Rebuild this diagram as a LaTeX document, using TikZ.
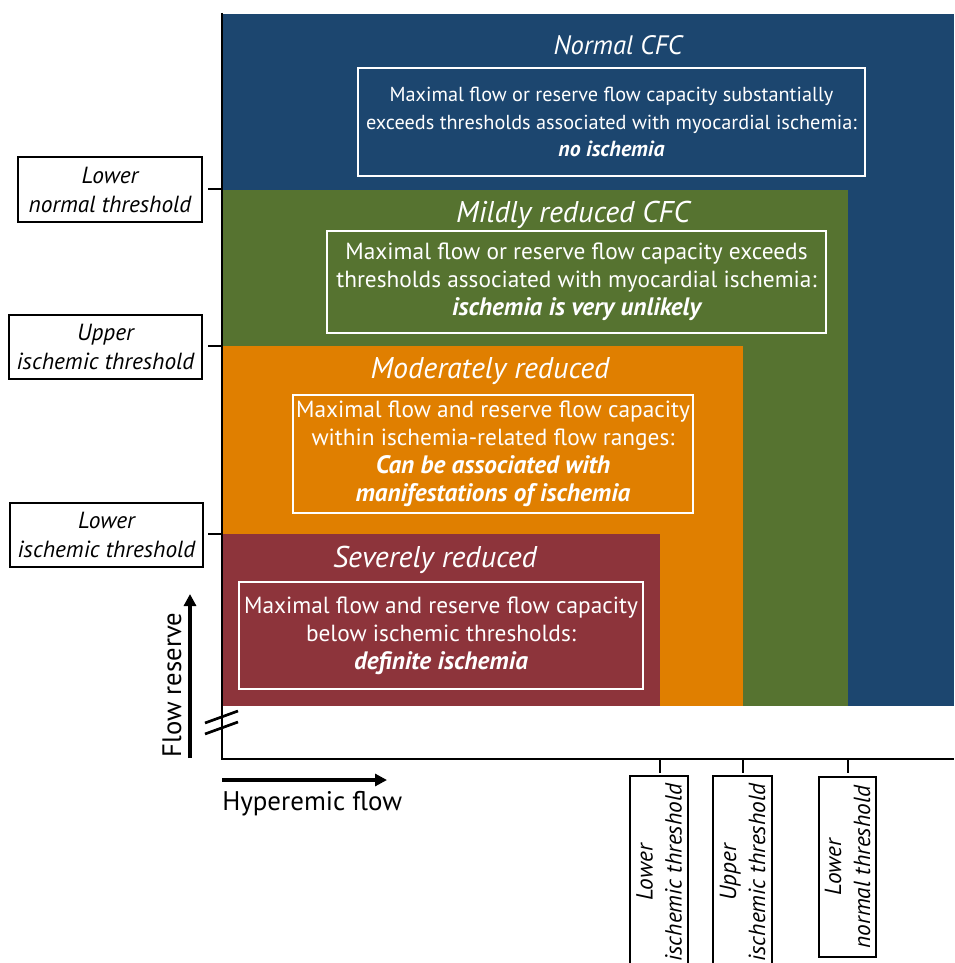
\documentclass[tikz,border=0pt]{standalone}
\usepackage{fontspec}
\setmainfont{PT Sans}
\usepackage{xcolor}
\usepackage{tikz}
\usetikzlibrary{arrows.meta,positioning,calc}
\definecolor{cfcblue}{RGB}{28,70,111}
\definecolor{cfcgreen}{RGB}{86,115,48}
\definecolor{cfcorange}{RGB}{224,127,0}
\definecolor{cfcred}{RGB}{141,52,59}
\newcommand{\verdict}[2][18.9]{{\fontsize{#1}{21}\selectfont\bfseries\itshape #2}}

\begin{document}
\begin{tikzpicture}[
    x=0.75pt, y=-0.75pt,
    font=\fontsize{17.5}{21}\selectfont,
    zonebox/.style={
        draw=white,
        line width=1.1pt,
        align=center,
        text=white,
        inner sep=0pt
    },
    zonetitle/.style={
        text=white,
        anchor=base,
        font=\fontsize{22.5}{26}\selectfont\itshape
    },
    thr/.style={
        draw=black,
        line width=0.9pt,
        align=center,
        fill=white,
        inner sep=0pt,
        font=\fontsize{17.5}{21.75}\selectfont\itshape
    },
    axis/.style={line width=2.2pt},
    tick/.style={line width=2pt},
    line/.style={-{Triangle[length=9pt,width=9pt]}, line width=3pt}
]
\useasboundingbox (0,0) rectangle (954,963);
\clip (0,0) rectangle (954,963);

% --- Zones ---
\fill[cfcblue]   (222,14)  rectangle (954,706);
\fill[cfcgreen]  (222,190) rectangle (848,706);
\fill[cfcorange] (222,346) rectangle (743,706);
\fill[cfcred]    (222,534) rectangle (660,706);

% --- Zone titles ---
\node[zonetitle, font=\fontsize{20}{24}\selectfont\itshape] (tnormal) at (618,55) {Normal CFC};
\node[zonetitle] (tmild)   at (573,222) {Mildly reduced CFC};
\node[zonetitle] (tmod)    at (490,378) {Moderately reduced};
\node[zonetitle] (tsev)    at (435,567) {Severely reduced};

% --- Zone texts ---
\node[zonebox, minimum width=380.25pt, minimum height=81pt,
      font=\fontsize{15.2}{20.6}\selectfont] (bnormal) at (611.5,122)
    {Maximal flow or reserve flow capacity substantially\\
     exceeds thresholds associated with myocardial ischemia:\\
     \verdict[16.4]{no ischemia}};
\node[zonebox, minimum width=374.25pt, minimum height=76.5pt] (bmild) at (576.5,282)
    {Maximal flow or reserve flow capacity exceeds\\
     thresholds associated with myocardial ischemia:\\
     \verdict{ischemia is very unlikely}};
\node[zonebox, minimum width=300pt, minimum height=88.5pt] (bmod) at (493,454)
    {Maximal flow and reserve flow capacity\\
     within ischemia-related flow ranges:\\
     \verdict{Can be associated with}\\
     \verdict{manifestations of ischemia}};
\node[zonebox, minimum width=303pt, minimum height=80.25pt] (bsev) at (441,635.5)
    {Maximal flow and reserve flow capacity\\
     below ischemic thresholds:\\
     \verdict{definite ischemia}};

% --- Axes ---
\coordinate (origin) at (222,759);
\coordinate (ytop) at (222,13);
\coordinate (xend) at (954,759);
\draw[axis] (ytop) -- (222,760);
\draw[axis] (origin) -- (xend);
\draw[tick] (205,723) -- (238,711);
\draw[tick] (205,734) -- (238,722);

% --- Flow reserve thresholds ---
\node[thr, minimum width=138pt, minimum height=48.75pt] (ylnt) at (110,189.5) {Lower\\normal threshold};
\node[thr, minimum width=144.75pt, minimum height=48pt] (yuit) at (105.5,347) {Upper\\ischemic threshold};
\node[thr, minimum width=144.75pt, minimum height=48pt] (ylit) at (106.5,535) {Lower\\ischemic threshold};
\draw[tick] (222,189) -- (208,189);
\draw[tick] (222,346) -- (208,346);
\draw[tick] (222,534) -- (208,534);

% --- Hyperemic flow thresholds ---
\node[thr, rotate=90, minimum width=144.75pt, minimum height=43.5pt] (xlit) at (659,872.5) {Lower\\ischemic threshold};
\node[thr, rotate=90, minimum width=144.75pt, minimum height=44.25pt] (xuit) at (742.5,872.5) {Upper\\ischemic threshold};
\node[thr, rotate=90, minimum width=135pt, minimum height=42.75pt] (xlnt) at (847.5,867) {Lower\\normal threshold};
\draw[tick] (660,759) -- (660,773);
\draw[tick] (743,759) -- (743,773);
\draw[tick] (848,759) -- (848,773);

% --- Axis labels ---
\coordinate (frbot) at (190,758);
\coordinate (frtop) at (190,594);
\coordinate (hfleft) at (222,780);
\coordinate (hfright) at (387,780);
\draw[line] (frbot) -- (frtop);
\draw[line] (hfleft) -- (hfright);
\node[rotate=90, font=\fontsize{20}{24}\selectfont] (flowres) at (172,685) {Flow reserve};
\node[anchor=base west, inner sep=0pt, font=\fontsize{20.2}{24}\selectfont] (hypflow) at (222,810) {Hyperemic flow};

\end{tikzpicture}
\end{document}
